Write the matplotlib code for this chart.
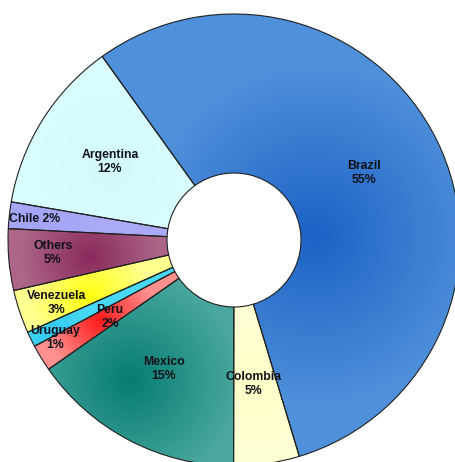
import numpy as np
import matplotlib
matplotlib.use('Agg')
import matplotlib.pyplot as plt
from matplotlib.colors import to_rgb

plt.rcParams['font.family'] = ['Liberation Sans', 'DejaVu Sans']

# 数据 (按逆时针顺序，从巴西开始)
countries = ['Brazil', 'Argentina', 'Chile', 'Others', 'Venezuela',
             'Uruguay', 'Peru', 'Mexico', 'Colombia']
shares = [55.3, 12.4, 1.9, 4.4, 3.1, 1.1, 1.9, 15.3, 4.7]
pct_labels = ['55%', '12%', '2%', '5%', '3%', '1%', '2%', '15%', '5%']

# 颜色：渐变中心色 / 边缘色
center_colors = ['#1c62c6', '#d2fafd', '#a4a4f6', '#8a2a5c', '#ffff10',
                 '#30c8ee', '#ff1a1a', '#067c72', '#ffffc8']
edge_colors = ['#4e90da', '#dcffff', '#aaaaf8', '#ad6688', '#ffff90',
               '#48d8f4', '#ff9090', '#4aa8a0', '#ffffd4']
# 渐变中心 (像素坐标) 与渐变半径
grad_centers = [(315, 235), (110, 165), (40, 218), (90, 257), (90, 298),
                (55, 338), (100, 320), (130, 380), (255, 385)]
grad_radius = [170, 120, 60, 70, 60, 40, 55, 110, 60]

# 标签位置 (像素坐标)
label_pos = [(364, 173), (110, 162), (35, 219), (53, 253), (57, 303),
             (55, 338), (110, 317), (164, 369), (254, 384)]

W, H = 455, 462
cx, cy = 234, 240
R_out, R_in = 226, 67

fig = plt.figure(figsize=(W / 100, H / 100), dpi=100)
ax = fig.add_axes([0, 0, 1, 1])

wedges, _ = ax.pie(shares, startangle=-73.2, counterclock=True,
                   center=(cx, H - cy), radius=R_out,
                   wedgeprops=dict(width=R_out - R_in, edgecolor='#202020',
                                   linewidth=0.8, facecolor='none'))

# 每个扇区的径向渐变填充
xx, yy = np.meshgrid(np.arange(W) + 0.5, np.arange(H) + 0.5)
for i, w in enumerate(wedges):
    gx, gy = grad_centers[i]
    d = np.sqrt((xx - gx) ** 2 + (yy - gy) ** 2) / grad_radius[i]
    t = np.clip(d, 0, 1)[..., None]
    c0 = np.array(to_rgb(center_colors[i]))
    c1 = np.array(to_rgb(edge_colors[i]))
    img = c0 + (c1 - c0) * t
    # 第0行在图的顶部
    im = ax.imshow(img, extent=(0, W, 0, H), origin='upper', zorder=0,
                   interpolation='bilinear')
    im.set_clip_path(w)
    w.set_zorder(1)

for i, name in enumerate(countries):
    x, y = label_pos[i]
    txt = f'{name} {pct_labels[i]}' if name == 'Chile' else f'{name}\n{pct_labels[i]}'
    ax.text(x, H - y, txt, ha='center', va='center', fontsize=8.8,
            fontweight='bold', color='#101018', linespacing=1.15, zorder=3)

ax.set_xlim(0, W)
ax.set_ylim(0, H)
ax.set_aspect('equal')
ax.axis('off')

plt.savefig('out.png', dpi=100)
